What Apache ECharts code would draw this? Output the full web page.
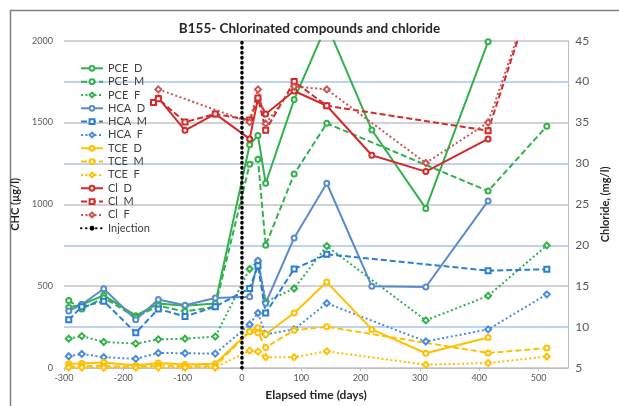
<!DOCTYPE html>
<html>
<head>
<meta charset="utf-8">
<script src="https://cdn.jsdelivr.net/npm/echarts@6/dist/echarts.min.js"></script>
<style>
html,body{margin:0;padding:0;background:#fff;}
#chart{width:619px;height:406px;}
</style>
</head>
<body>
<div id="chart"></div>
<script>
// ---- data (days after injection; CHC in µg/l, chloride in mg/l) ----
const daysD = [-292,-270,-233,-179,-141,-96,-45,13,27,40,88,143,219,310,415];
const pceD  = [370,388,444,320,394,380,394,1364,1421,1129,1640,2100,1454,975,1994];
const hcaD  = [349,388,484,295,418,384,428,435,655,396,795,1129,499,495,1021];
const tceD  = [26,28,34,16,30,22,26,225,246,206,336,525,236,90,186];

const daysM = [-292,-270,-233,-179,-141,-96,-45,13,27,40,88,143,415,514];
const pceM  = [412,360,430,310,380,345,375,1245,1275,750,1185,1495,1081,1478];
const hcaM  = [295,375,408,215,361,315,375,486,625,336,605,695,595,603];
const tceM  = [10,12,12,8,16,10,12,222,216,126,230,252,92,122];

const daysF = [-292,-270,-233,-179,-141,-96,-45,13,27,40,88,143,310,415,514];
const pceF  = [179,195,159,149,175,179,192,605,655,405,486,745,291,441,749];
const hcaF  = [72,86,66,56,92,90,88,266,336,206,236,396,162,236,450];
const tceF  = [3,3,3,3,3,3,3,106,100,66,66,102,20,30,70];

const daysClD = [-149,-141,-96,-45,13,27,40,88,143,219,310,415];
const clD     = [37.45,38.0,34.05,36.05,33.0,37.9,36.05,38.85,37.05,31.0,29.0,33.0];
const daysClM = [-149,-141,-96,-45,13,27,40,88,143,415,514];
const clM     = [37.45,37.9,35.05,36.05,35.3,38.0,34.05,40.0,37.05,34.0,56];
const daysClF = [-141,13,27,40,88,143,310,415,514];
const clF     = [39.05,35.05,39.05,34.85,39.4,39.05,30.05,35.0,56];

const injectionDay = [0, 0];
const injectionVal = [0, 2000];

const title = 'B155- Chlorinated compounds and chloride';
const xName = 'Elapsed time (days)';
const yLeftName = 'CHC (µg/l)';
const yRightName = 'Chloride, (mg/l)';

// ---- helpers ----
const FONT = 'Lato';
function pairs(xs, ys){ return xs.map((x,i)=>[x, ys[i]]); }
const SOLID = 'solid', DASH = [6,3], DOT = [2,2.5];
function mk(name, xs, ys, color, type, symbol, yIdx){
  return {
    name, type:'line', yAxisIndex: yIdx, data: pairs(xs, ys),
    symbol, symbolSize: symbol==='emptyDiamond'?6:5, showAllSymbol:true,
    lineStyle:{color, width:2, type},
    itemStyle:{color, borderColor: color, borderWidth:1},
    emphasis:{disabled:true}, animation:false, clip:true
  };
}
const G='#33b14d', B1='#5a8bcb', B2='#2a7fd4', B3='#4a8be0', Y='#ffc000', R='#d32a2a', R3='#c95555';
const series = [
  mk('PCE  D', daysD, pceD, G, SOLID, 'emptyCircle', 0),
  mk('PCE  M', daysM, pceM, G, DASH, 'emptyCircle', 0),
  mk('PCE  F', daysF, pceF, G, DOT, 'emptyDiamond', 0),
  mk('HCA  D', daysD, hcaD, B1, SOLID, 'emptyCircle', 0),
  mk('HCA  M', daysM, hcaM, B2, DASH, 'emptyRect', 0),
  mk('HCA  F', daysF, hcaF, B3, DOT, 'emptyDiamond', 0),
  mk('TCE  D', daysD, tceD, Y, SOLID, 'emptyCircle', 0),
  mk('TCE  M', daysM, tceM, Y, DASH, 'emptyCircle', 0),
  mk('TCE  F', daysF, tceF, Y, DOT, 'emptyDiamond', 0),
  mk('Cl  D', daysClD, clD, R, SOLID, 'emptyCircle', 1),
  mk('Cl  M', daysClM, clM, R, DASH, 'emptyRect', 1),
  mk('Cl  F', daysClF, clF, R3, DOT, 'emptyDiamond', 1),
  {
    name:'Injection', type:'line', yAxisIndex:0, data: pairs(injectionDay, injectionVal),
    symbol:'none', lineStyle:{color:'#000', width:3.5, type:[0.5,4.5], cap:'round'},
    itemStyle:{color:'#000'}, emphasis:{disabled:true}, animation:false, z:5
  }
];

const chart = echarts.init(document.getElementById('chart'), null, {renderer:'canvas'});
chart.setOption({
  animation:false,
  backgroundColor:'#fff',
  textStyle:{fontFamily:FONT},
  title:{
    text:title, left:'center', top:17,
    textStyle:{fontFamily:FONT, fontSize:13.5, fontWeight:'bold', color:'#262626'}
  },
  graphic:[{
    type:'polyline', silent:true,
    shape:{points:[[10.5,410],[10.5,10.5],[625,10.5]]},
    style:{stroke:'#7f7f7f', lineWidth:1.5, fill:null}
  }],
  legend:{
    orient:'vertical', left:80, top:62.3, padding:0,
    itemWidth:22, itemHeight:6, itemGap:1.33,
    textStyle:{fontFamily:FONT, fontSize:11, lineHeight:12, color:'#404040'},
    data: series.map(s=>s.name)
  },
  grid:{left:64, right:41, top:40.7, bottom:31.7, containLabel:false},
  xAxis:{
    type:'value', min:-300, max:550, interval:100,
    name:xName, nameLocation:'middle', nameGap:21,
    nameTextStyle:{fontFamily:FONT, fontSize:12, fontWeight:'bold', color:'#262626'},
    axisLine:{show:true, onZero:false, lineStyle:{color:'#bfbfbf', width:1}},
    axisTick:{show:true, length:3, lineStyle:{color:'#bfbfbf'}},
    axisLabel:{fontFamily:FONT, fontSize:9, color:'#595959', margin:6, showMaxLabel:false},
    splitLine:{show:false}
  },
  yAxis:[{
    type:'value', min:0, max:2000, interval:500, position:'left',
    name:yLeftName, nameLocation:'middle', nameGap:37, nameRotate:90,
    nameTextStyle:{fontFamily:FONT, fontSize:11, fontWeight:'bold', color:'#262626'},
    axisLine:{show:true, lineStyle:{color:'#d9d9d9'}},
    axisTick:{show:false},
    axisLabel:{fontFamily:FONT, fontSize:9, color:'#595959', margin:11, formatter:(v)=>String(v)},
    splitLine:{show:true, lineStyle:{color:'#d2d2d2', width:2}}
  },{
    type:'value', min:5, max:45, interval:5, position:'right',
    name:yRightName, nameLocation:'middle', nameGap:30, nameRotate:90,
    nameTextStyle:{fontFamily:FONT, fontSize:11, fontWeight:'bold', color:'#262626'},
    axisLine:{show:true, lineStyle:{color:'#bfbfbf'}},
    axisTick:{show:false},
    axisLabel:{fontFamily:FONT, fontSize:12, color:'#595959', margin:7},
    splitLine:{show:true, lineStyle:{color:['rgba(255,255,255,0)','#bdd3f0'], width:2}}
  }],
  series
});
</script>
</body>
</html>
